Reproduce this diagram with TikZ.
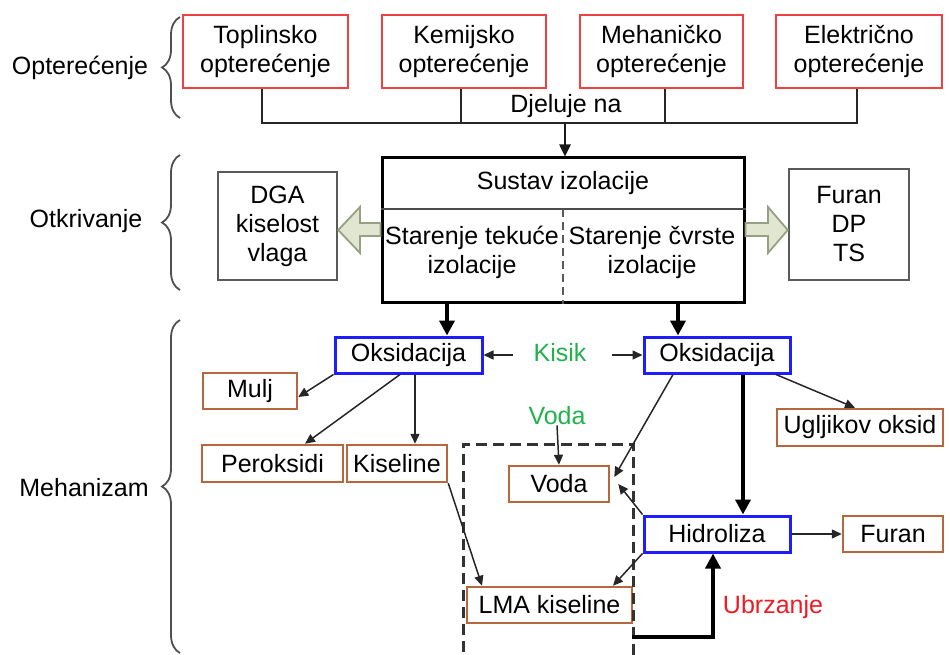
\documentclass[tikz,border=0pt]{standalone}
\usepackage{fontspec}
\setmainfont{Liberation Sans}
\usetikzlibrary{arrows.meta,decorations.pathreplacing,calc}
\definecolor{redb}{RGB}{240,64,64}
\definecolor{blueb}{RGB}{30,30,250}
\definecolor{brownb}{RGB}{184,102,62}
\definecolor{grayb}{RGB}{90,90,90}
\definecolor{grayd}{RGB}{80,80,80}
\definecolor{greent}{RGB}{34,177,76}
\definecolor{redt}{RGB}{237,28,36}
\definecolor{hfill}{RGB}{224,230,208}
\definecolor{hdraw}{RGB}{150,160,130}
\begin{document}
\begin{tikzpicture}[x=1pt,y=-1pt,
 every node/.style={font=\fontsize{25}{29}\selectfont, inner sep=0pt, align=center},
 loadbox/.style={draw=redb, line width=2pt, minimum height=73pt},
 graybox/.style={draw=grayb, line width=2.5pt},
 bluebox/.style={draw=blueb, line width=3pt, minimum width=146pt, minimum height=36pt},
 brownbox/.style={draw=brownb, line width=2.5pt, minimum height=36pt},
 thinarr/.style={draw=black!85, line width=1.5pt, -{Triangle[length=10pt,width=9pt]}},
 midarr/.style={draw=black!90, line width=2.5pt, -{Triangle[length=12pt,width=11pt]}},
 thickarr/.style={line width=4pt, -{Triangle[length=15pt,width=15pt]}},
 brc/.style={decorate, decoration={brace, amplitude=18pt}, draw=grayd, line width=1.8pt},
 hollow/.style={fill=hfill, draw=hdraw, line width=1.8pt}
]
\useasboundingbox (0,0) rectangle (950,655);

% ---- braces and side labels
\draw[brc] (180,118) -- (180,17);
\draw[brc] (180,290) -- (180,155);
\draw[brc] (180,653) -- (180,320);
\node (lOpt) at (80,68) {Opterećenje};
\node (lOtk) at (86,221) {Otkrivanje};
\node (lMeh) at (84,488) {Mehanizam};

% ---- load boxes
\node[loadbox, minimum width=165pt] (top1) at (265.5,51.5) {Toplinsko\\opterećenje};
\node[loadbox, minimum width=164pt] (top2) at (464,51.5) {Kemijsko\\opterećenje};
\node[loadbox, minimum width=163pt] (top3) at (661.5,51.5) {Mehaničko\\opterećenje};
\node[loadbox, minimum width=166pt] (top4) at (859,51.5) {Električno\\opterećenje};

\coordinate (busL) at (262,123);
\coordinate (busR) at (857,123);
\coordinate (bus2) at (461,123);
\coordinate (bus3) at (665,123);
\coordinate (busM) at (565,123);
\draw[line width=2.5pt, black!85] (top1.south -| busL) -- (busL) -- (busR) -- (top4.south -| busR);
\draw[line width=2.5pt, black!85] (top2.south -| bus2) -- (bus2);
\draw[line width=2.5pt, black!85] (top3.south -| bus3) -- (bus3);
\node (djel) at (566,106) {Djeluje na};

% ---- insulation system
\node[draw=black, line width=3pt, minimum width=362pt, minimum height=144pt] (sys) at (563,230) {};
\draw[midarr] (busM) -- (sys.north -| busM);
\draw[line width=2pt, black!70] (sys.west |- 0,209) -- (sys.east |- 0,209);
\draw[dash pattern=on 8pt off 5pt, line width=1.5pt, black!65] (563,209) -- (sys.south);
\node (sysT) at (563,183) {Sustav izolacije};
\node (sysL) at (472,252.5) {Starenje tekuće\\izolacije};
\node (sysR) at (652,252.5) {Starenje čvrste\\izolacije};

\node[graybox, minimum width=119pt, minimum height=108pt] (dga) at (277.5,226) {DGA\\kiselost\\vlaga};
\node[graybox, minimum width=120pt, minimum height=111pt] (fdt) at (849,224.5) {Furan\\DP\\TS};

\draw[hollow] (dga.east |- 0,230) -- (360,207) -- (360,223) -- (sys.west |- 0,223) -- (sys.west |- 0,236) -- (360,236) -- (360,253) -- cycle;
\draw[hollow] (sys.east |- 0,223) -- (768,223) -- (768,207) -- (fdt.west |- 0,230) -- (768,253) -- (768,236) -- (sys.east |- 0,236) -- cycle;

% ---- mechanism
\node[bluebox, minimum width=147pt] (oxL) at (408.5,355) {Oksidacija};
\node[bluebox] (oxR) at (717,355) {Oksidacija};
\node[text=greent] (kisik) at (560,353) {Kisik};
\coordinate (kL) at (513,355);
\coordinate (kR) at (612,355);
\draw[thinarr] (kL) -- (oxL.east);
\draw[thinarr] (kR) -- (oxR.west);

\draw[thickarr] (sys.south -| 447,0) -- (oxL.north -| 447,0);
\draw[thickarr] (sys.south -| 678,0) -- (oxR.north -| 678,0);

\node[brownbox, minimum width=94pt] (mulj) at (250,391) {Mulj};
\node[brownbox, minimum width=141pt, minimum height=37pt] (perok) at (272.5,463.5) {Peroksidi};
\node[brownbox, minimum width=100pt, minimum height=37pt] (kis) at (397,463.5) {Kiseline};
\node[text=greent] (vodaT) at (557,416) {Voda};
\node[brownbox, minimum width=100pt] (voda) at (559,484) {Voda};
\node[brownbox, minimum width=165pt] (lma) at (549.5,605) {LMA kiseline};
\node[bluebox] (hidr) at (717,534) {Hidroliza};
\node[brownbox, minimum width=166pt, minimum height=37pt] (ugl) at (860,427.5) {Ugljikov oksid};
\node[brownbox, minimum width=100pt] (furan) at (893,534) {Furan};
\node[text=redt] (ubrz) at (773,607) {Ubrzanje};

\draw[dash pattern=on 11pt off 6pt, line width=3pt, black!80] (633,655) -- (633,444) -- (463,444) -- (463,655);

\draw[thinarr] (oxL.south west) -- (mulj.east |- 0,397);
\draw[thinarr] (oxL.south -| 400,0) -- (perok.north -| 305,0);
\draw[thinarr] (oxL.south -| 415,0) -- (kis.north -| 415,0);
\draw[thinarr] (vodaT.south) -- (voda.north);
\draw[thinarr] (oxR.south -| 673,0) -- ($(voda.east)+(4,-7)$);
\draw[thinarr] (oxR.south -| 776,0) -- (ugl.north -| 855,0);
\draw[thickarr] (oxR.south -| 743,0) -- (hidr.north -| 743,0);
\draw[thinarr] (hidr.north west) -- ($(voda.east)+(8,0)$);
\draw[thinarr] (hidr.south west) -- (lma.north -| 613,0);
\draw[thinarr] (kis.south east) -- (lma.north -| 482,0);
\draw[thinarr] (hidr.east) -- (furan.west);
\coordinate (ub) at (632,637);
\draw[thickarr] (ub) -| (hidr.south -| 713,0);
\end{tikzpicture}
\end{document}
